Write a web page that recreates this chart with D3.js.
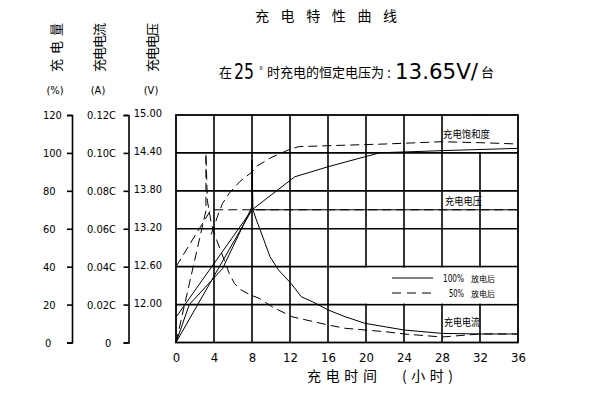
<!DOCTYPE html>
<html>
<head>
<meta charset="utf-8">
<script src="https://cdn.jsdelivr.net/npm/d3@7"></script>
<style>
  body { margin: 0; background: #fff; }
  text { fill: #000; }
  .num { font-family: "Liberation Sans Narrow", "DejaVu Sans Condensed", "DejaVu Sans", sans-serif; font-stretch: condensed; }
  .cjk { font-family: "Noto Sans CJK SC", sans-serif; }
</style>
</head>
<body>
<script>
const width = 595;
const height = 396;
const plot = {left: 176, right: 518, top: 115, bottom: 342.5};

// tick values
const hourTicks = [0, 4, 8, 12, 16, 20, 24, 28, 32, 36];
const pctTicks = [0, 20, 40, 60, 80, 100, 120];
const ampTicks = [0, 0.02, 0.04, 0.06, 0.08, 0.10, 0.12];
const voltTicks = [12.00, 12.60, 13.20, 13.80, 14.40, 15.00];

// series: [hours, value]  (solid = 100% discharged, dashed = 50% discharged)
const volt100 = [[0, 11.80], [8, 13.50], [36, 13.50]];
const volt50 = [[0, 12.60], [3.68, 13.50], [36, 13.50]];

const sat100 = [[0, 0], [8, 70], [12.5, 87.4], [16, 92.7], [19.9, 98], [21.5, 100.1],
                [24, 100.5], [28, 101.2], [32, 101.8], [36, 102.4]];
const sat50 = [[3.7, 57], [4.0, 61], [4.4, 67], [4.9, 73.4], [5.6, 78.7], [6.7, 84.8],
               [8, 90], [8.5, 93], [10, 97.5], [11.8, 101.5], [12.9, 103.3], [16, 103.8],
               [22, 104.7], [28, 105.9], [32, 105.4], [36, 104.7]];

const amp100 = [[0, 0], [1.4, 0.020], [4.9, 0.039], [8, 0.0716], [8, 0.0963], [8.1, 0.070],
                [8.4, 0.0655], [8.87, 0.0593], [9.9, 0.0452], [10.8, 0.0382], [12.1, 0.0312],
                [13.2, 0.0241], [14.4, 0.0214], [16.05, 0.0171], [17.8, 0.0136], [19.9, 0.0101],
                [22, 0.0083], [24, 0.0066], [28, 0.0048], [32, 0.0045], [36, 0.0045]];
const amp50 = [[0, 0], [3.15, 0.0695], [3.15, 0.0998], [3.3, 0.075], [3.68, 0.0637],
               [3.96, 0.0584], [4.21, 0.055], [4.55, 0.0505], [5.08, 0.0435], [5.6, 0.0365],
               [6.14, 0.0312], [6.84, 0.0277], [7.88, 0.025], [8.76, 0.0233], [10.1, 0.0189],
               [12.2, 0.0136], [16.05, 0.0092], [17.8, 0.0075], [22, 0.0057], [24, 0.0045],
               [28, 0.0029], [32, 0.0045], [36, 0.0045]];

// accessors
const tValue = d => d[0];
const yValue = d => d[1];

const xScale = d3.scaleLinear().domain([0, 36]).range([plot.left, plot.right]);
const pctScale = d3.scaleLinear().domain([0, 120]).range([plot.bottom, plot.top]);
const ampScale = d3.scaleLinear().domain([0, 0.12]).range([plot.bottom, plot.top]);
const voltScale = d3.scaleLinear().domain([11.4, 15]).range([plot.bottom, plot.top]);

const svg = d3.select("body")
      .append("svg")
      .attr("width", width)
      .attr("height", height);


function drawTitles(canvas) {
      canvas.append("text")
            .attr("class", "cjk")
            .attr("x", 255).attr("y", 20.5)
            .attr("font-size", 14)
            .attr("textLength", 142).attr("lengthAdjust", "spacing")
            .text("充电特性曲线");

      const sub = [
            {t: "在", cls: "cjk", x: 219, y: 77, size: 13, len: 13},
            {t: "25", cls: "num", x: 234, y: 79, size: 21, len: 20},
            {t: "°", cls: "num", x: 259, y: 74, size: 11, len: 4},
            {t: "时充电的恒定电压为", cls: "cjk", x: 267, y: 77, size: 13, len: 117},
            {t: ":", cls: "num", x: 387, y: 78, size: 16, len: 4},
            {t: "13.65V/", cls: "num", x: 395, y: 79, size: 21, len: 83},
            {t: "台", cls: "cjk", x: 481, y: 77, size: 13, len: 13}
      ];
      canvas.selectAll(".sub")
            .data(sub)
            .enter()
            .append("text")
            .attr("class", d => d.cls)
            .attr("x", d => d.x)
            .attr("y", d => d.y)
            .attr("font-size", d => d.size)
            .attr("font-weight", d => d.cls === "num" ? 200 : null)
            .attr("textLength", d => d.len).attr("lengthAdjust", "spacingAndGlyphs")
            .text(d => d.t);

      // axis captions, rotated
      const caps = [
            {t: "充电量", unit: "(%)", x: 55},
            {t: "充电电流", unit: "(A)", x: 98},
            {t: "充电电压", unit: "(V)", x: 151}
      ];
      caps.forEach(c => {
            canvas.append("text")
                  .attr("class", "cjk")
                  .attr("font-size", 13)
                  .attr("text-anchor", "middle")
                  .attr("dominant-baseline", "central")
                  .attr("textLength", 49).attr("lengthAdjust", "spacing")
                  .attr("transform", `translate(${c.x}, 47.5) rotate(-90)`)
                  .text(c.t);
            canvas.append("text")
                  .attr("class", "num")
                  .attr("font-size", 11)
                  .attr("text-anchor", "middle")
                  .attr("x", c.x).attr("y", 94)
                  .text(c.unit);
      });

      canvas.append("text")
            .attr("class", "cjk")
            .attr("x", 307).attr("y", 381)
            .attr("font-size", 14)
            .attr("textLength", 70).attr("lengthAdjust", "spacing")
            .text("充电时间");
      canvas.append("text")
            .attr("class", "cjk")
            .attr("x", 402).attr("y", 381)
            .attr("font-size", 14)
            .attr("textLength", 51).attr("lengthAdjust", "spacing")
            .text("(小时)");
}


function drawAxes(canvas) {
      const pctAxis = canvas.append("g")
            .attr("transform", "translate(72, 0)")
            .call(d3.axisLeft(pctScale).tickValues(pctTicks).tickSize(5).tickSizeOuter(5));
      pctAxis.selectAll(".tick text")
            .attr("text-anchor", "start")
            .attr("x", d => d === 0 ? -27 : -29);

      const ampAxis = canvas.append("g")
            .attr("transform", "translate(128.5, 0)")
            .call(d3.axisLeft(ampScale).tickValues(ampTicks).tickSize(5).tickSizeOuter(5)
                  .tickFormat(d => d === 0 ? "0" : d.toFixed(2) + "C"));
      ampAxis.selectAll(".tick text")
            .attr("text-anchor", "start")
            .attr("x", d => d === 0 ? -23.5 : -41.5);

      const voltAxis = canvas.append("g")
            .attr("transform", `translate(${plot.left}, 0)`)
            .call(d3.axisLeft(voltScale).tickValues(voltTicks).tickSize(0).tickPadding(14)
                  .tickFormat(d3.format(".2f")));
      voltAxis.select(".domain").remove();
      voltAxis.selectAll(".tick text").attr("y", -2);

      const hourAxis = canvas.append("g")
            .attr("transform", `translate(0, ${plot.bottom})`)
            .call(d3.axisBottom(xScale).tickValues(hourTicks).tickSize(0).tickPadding(10));
      hourAxis.select(".domain").remove();
      hourAxis.selectAll("text").attr("font-size", 13);

      [pctAxis, ampAxis, voltAxis].forEach(a => a.selectAll("text").attr("font-size", 11));
      [pctAxis, ampAxis, voltAxis, hourAxis].forEach(a => {
            a.attr("font-family", null).attr("class", "num");
      });
      [pctAxis, ampAxis].forEach(a => {
            a.selectAll(".domain, .tick line").attr("stroke", "#000").attr("stroke-width", 1.6);
      });
}


function drawGrid(canvas) {
      const grid = canvas.append("g")
            .attr("stroke", "#000")
            .attr("stroke-width", 1.6);

      grid.selectAll(".hgrid")
            .data(voltTicks.filter(v => v < 15))
            .enter()
            .append("line")
            .attr("x1", plot.left).attr("x2", plot.right)
            .attr("y1", d => voltScale(d)).attr("y2", d => voltScale(d));

      grid.selectAll(".vgrid")
            .data(hourTicks.filter(h => h > 0 && h < 36))
            .enter()
            .append("line")
            .attr("x1", d => xScale(d)).attr("x2", d => xScale(d))
            .attr("y1", plot.top).attr("y2", plot.bottom);

      // blank cells behind the legend and the saturation label
      canvas.append("rect")
            .attr("x", xScale(20) - 1).attr("y", voltScale(12.6) + 1)
            .attr("width", plot.right - xScale(20)).attr("height", voltScale(12.0) - voltScale(12.6) - 2)
            .attr("fill", "#fff");
      canvas.append("rect")
            .attr("x", xScale(28) + 1).attr("y", plot.top + 1)
            .attr("width", plot.right - xScale(28) - 2).attr("height", voltScale(14.4) - plot.top - 2)
            .attr("fill", "#fff");

      canvas.append("rect")
            .attr("x", plot.left).attr("y", plot.top)
            .attr("width", plot.right - plot.left).attr("height", plot.bottom - plot.top)
            .attr("fill", "none")
            .attr("stroke", "#000")
            .attr("stroke-width", 1.8);
}


function drawCurve(canvas, data, yScale, dashed) {
      canvas.append("path")
            .datum(data)
            .attr("fill", "none")
            .attr("stroke", "#000")
            .attr("stroke-width", 1)
            .attr("stroke-dasharray", dashed ? "9,5" : null)
            .attr("d", d3.line()
                  .x(d => xScale(tValue(d)))
                  .y(d => yScale(yValue(d))));
}


function drawLabels(canvas) {
      const labels = [
            {t: "充电饱和度", x: 443, y: 138, len: 47},
            {t: "充电电压", x: 445, y: 205, len: 37},
            {t: "充电电流", x: 444, y: 326, len: 36}
      ];
      canvas.selectAll(".lbl")
            .data(labels)
            .enter()
            .append("text")
            .attr("class", "cjk")
            .attr("x", d => d.x).attr("y", d => d.y)
            .attr("font-size", 10)
            .attr("textLength", d => d.len).attr("lengthAdjust", "spacingAndGlyphs")
            .text(d => d.t);

      const legend = [
            {pct: "100%", y: 278, dashed: false, tx: 443, len: 21},
            {pct: "50%", y: 293, dashed: true, tx: 449, len: 15}
      ];
      legend.forEach(l => {
            canvas.append("line")
                  .attr("x1", 392).attr("x2", 433)
                  .attr("y1", l.y).attr("y2", l.y)
                  .attr("stroke", "#000").attr("stroke-width", 1)
                  .attr("stroke-dasharray", l.dashed ? "9,6" : null);
            canvas.append("text")
                  .attr("class", "num")
                  .attr("x", l.tx).attr("y", l.y + 4)
                  .attr("font-size", 10)
                  .attr("textLength", l.len).attr("lengthAdjust", "spacingAndGlyphs")
                  .text(l.pct);
            canvas.append("text")
                  .attr("class", "cjk")
                  .attr("x", 471).attr("y", l.y + 4)
                  .attr("font-size", 8)
                  .text("放电后");
      });
}


drawGrid(svg);
drawAxes(svg);
drawCurve(svg, volt100, voltScale, false);
drawCurve(svg, volt50, voltScale, true);
drawCurve(svg, sat100, pctScale, false);
drawCurve(svg, sat50, pctScale, true);
drawCurve(svg, amp100, ampScale, false);
drawCurve(svg, amp50, ampScale, true);
drawLabels(svg);
drawTitles(svg);
</script>
</body>
</html>
